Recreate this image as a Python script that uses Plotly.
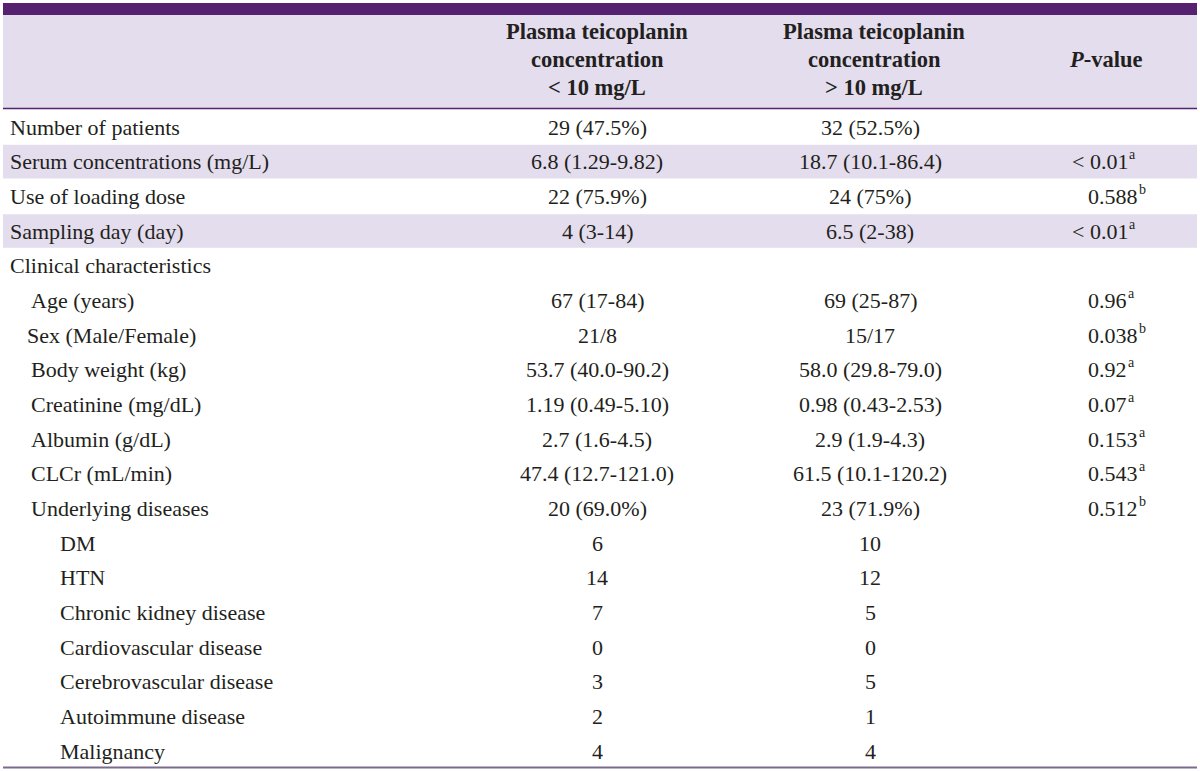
import plotly.graph_objects as go

# ---------------- data ----------------
header_low = ["Plasma teicoplanin", "concentration", "< 10 mg/L"]
header_high = ["Plasma teicoplanin", "concentration", "> 10 mg/L"]
header_p = "<i>P</i>-value"

row_labels = [
    "Number of patients",
    "Serum concentrations (mg/L)",
    "Use of loading dose",
    "Sampling day (day)",
    "Clinical characteristics",
    "Age (years)",
    "Sex (Male/Female)",
    "Body weight (kg)",
    "Creatinine (mg/dL)",
    "Albumin (g/dL)",
    "CLCr (mL/min)",
    "Underlying diseases",
    "DM",
    "HTN",
    "Chronic kidney disease",
    "Cardiovascular disease",
    "Cerebrovascular disease",
    "Autoimmune disease",
    "Malignancy",
]
low_values = [
    "29 (47.5%)", "6.8 (1.29-9.82)", "22 (75.9%)", "4 (3-14)", "",
    "67 (17-84)", "21/8", "53.7 (40.0-90.2)", "1.19 (0.49-5.10)",
    "2.7 (1.6-4.5)", "47.4 (12.7-121.0)", "20 (69.0%)",
    "6", "14", "7", "0", "3", "2", "4",
]
high_values = [
    "32 (52.5%)", "18.7 (10.1-86.4)", "24 (75%)", "6.5 (2-38)", "",
    "69 (25-87)", "15/17", "58.0 (29.8-79.0)", "0.98 (0.43-2.53)",
    "2.9 (1.9-4.3)", "61.5 (10.1-120.2)", "23 (71.9%)",
    "10", "12", "5", "0", "5", "1", "4",
]
p_values = [
    "", "< 0.01", "0.588", "< 0.01", "",
    "0.96", "0.038", "0.92", "0.07", "0.153", "0.543", "0.512",
    "", "", "", "", "", "", "",
]
p_notes = [
    "", "a", "b", "a", "",
    "a", "b", "a", "a", "a", "a", "b",
    "", "", "", "", "", "", "",
]

# ---------------- style ----------------
W, H = 1200, 771
PURPLE = "#56226f"
LAV = "#e3ddee"
TEXT = "#231f20"
FONT = "Liberation Serif"
BODY_SIZE = 22
SUP_SIZE = 14
indent_px = [8, 8, 8, 8, 8, 29, 25, 29, 29, 29, 29, 29, 58, 58, 58, 58, 58, 58, 58]
shaded_rows = [1, 3]

ROW_H = 34.67
FIRST_CENTER = 127.0
X_LOW, X_HIGH, X_P = 597, 870, 1086
HEADER_LINE_Y = [31, 59, 87]

# Liberation Serif (Times-metric) advance widths, em units, for placing superscripts
GLYPH_EM = {c: 0.5 for c in "0123456789"}
GLYPH_EM.update({".": 0.25, " ": 0.25, "<": 0.564})


def text_width(s, size):
    return sum(GLYPH_EM.get(c, 0.5) for c in s) * size


fig = go.Figure()
fig.add_trace(go.Scatter(x=[0, W], y=[0, H], mode="markers",
                         marker=dict(opacity=0), hoverinfo="skip", showlegend=False))

shapes = []
shapes.append(dict(type="rect", x0=3, x1=1197, y0=15, y1=108.5, fillcolor=LAV, line_width=0, layer="below"))
shapes.append(dict(type="rect", x0=3, x1=1197, y0=3, y1=15, fillcolor=PURPLE, line_width=0, layer="below"))
for r in shaded_rows:
    c = FIRST_CENTER + r * ROW_H
    shapes.append(dict(type="rect", x0=3, x1=1197, y0=c - ROW_H / 2 + 0.5, y1=c + ROW_H / 2 - 0.5,
                       fillcolor=LAV, line_width=0, layer="below"))
shapes.append(dict(type="line", x0=3, x1=1197, y0=108.5, y1=108.5, line=dict(color=PURPLE, width=1.5)))
shapes.append(dict(type="line", x0=3, x1=1197, y0=767.5, y1=767.5, line=dict(color="#7d6b8e", width=2)))

ann = []
hfont = dict(family=FONT, size=22.5, color=TEXT, weight="bold")
for lines, x in [(header_low, X_LOW), (header_high, 874)]:
    for txt, y in zip(lines, HEADER_LINE_Y):
        ann.append(dict(x=x, y=y, text=txt, showarrow=False, xanchor="center",
                        yanchor="middle", font=hfont))
ann.append(dict(x=1106, y=59, text=header_p, showarrow=False, xanchor="center",
                yanchor="middle", font=hfont))

bfont = dict(family=FONT, size=BODY_SIZE, color=TEXT)
sfont = dict(family=FONT, size=SUP_SIZE, color=TEXT)
for i, lab in enumerate(row_labels):
    yc = FIRST_CENTER + i * ROW_H
    ann.append(dict(x=indent_px[i], y=yc, text=lab, showarrow=False, xanchor="left",
                    yanchor="middle", font=bfont))
    if low_values[i]:
        ann.append(dict(x=X_LOW, y=yc, text=low_values[i], showarrow=False, xanchor="center",
                        yanchor="middle", font=bfont))
    if high_values[i]:
        ann.append(dict(x=X_HIGH, y=yc, text=high_values[i], showarrow=False, xanchor="center",
                        yanchor="middle", font=bfont))
    if p_values[i]:
        px = X_P - 16 if p_values[i].startswith("<") else X_P
        ann.append(dict(x=px, y=yc, text=p_values[i], showarrow=False, xanchor="left",
                        yanchor="middle", font=bfont))
        ann.append(dict(x=px + text_width(p_values[i], BODY_SIZE) + 1, y=yc - 7,
                        text=p_notes[i], showarrow=False, xanchor="left",
                        yanchor="middle", font=sfont))

fig.update_layout(
    width=W, height=H,
    margin=dict(l=0, r=0, t=0, b=0),
    paper_bgcolor="white", plot_bgcolor="white",
    xaxis=dict(range=[0, W], visible=False, fixedrange=True),
    yaxis=dict(range=[H, 0], visible=False, fixedrange=True),
    shapes=shapes, annotations=ann, showlegend=False,
)
fig.write_html(
    "out.html",
    config={"displayModeBar": False},
    post_script="document.body.style.margin='0';document.body.style.overflow='hidden';",
)
